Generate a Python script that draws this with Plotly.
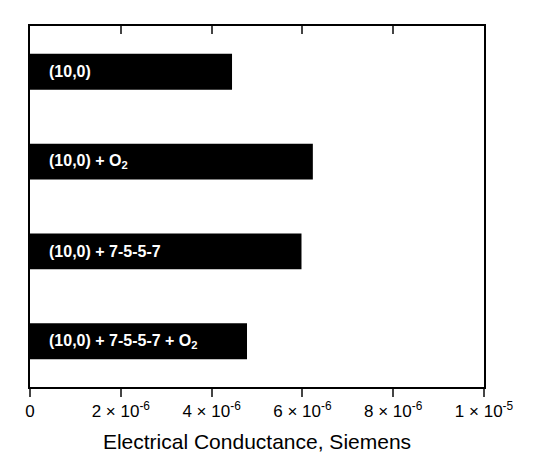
import plotly.graph_objects as go

labels = ["(10,0)", "(10,0) + O<sub>2</sub>", "(10,0) + 7-5-5-7", "(10,0) + 7-5-5-7 + O<sub>2</sub>"]
values = [4.45e-6, 6.23e-6, 5.98e-6, 4.78e-6]
tickvals = [0, 2e-6, 4e-6, 6e-6, 8e-6, 1e-5]
ticktext = ["0", "2 × 10<sup>-6</sup>", "4 × 10<sup>-6</sup>", "6 × 10<sup>-6</sup>", "8 × 10<sup>-6</sup>", "1 × 10<sup>-5</sup>"]

pos = list(range(len(labels)))
fig = go.Figure(go.Bar(x=values, y=pos, orientation="h", width=0.4,
                       marker=dict(color="black", line_width=0), hoverinfo="skip"))
fig.add_trace(go.Scatter(x=[0, 1e-5], y=[0, 0], xaxis="x2", mode="markers",
                         marker=dict(opacity=0), showlegend=False, hoverinfo="skip"))
for p, t in zip(pos, labels):
    fig.add_annotation(x=0, y=p, text=t, xanchor="left", xshift=17, showarrow=False,
                       font=dict(family="Liberation Sans", size=16, color="white", weight="bold"))
fig.update_layout(
    width=550, height=468, margin=dict(l=22, r=74, t=18, b=89),
    plot_bgcolor="white", paper_bgcolor="white", showlegend=False,
    xaxis=dict(range=[0, 1e-5], tickvals=tickvals, ticktext=ticktext, ticks="outside",
               ticklen=8, tickwidth=1.5, linecolor="black", linewidth=1.5, showgrid=False,
               zeroline=False, automargin=False,
               tickfont=dict(family="Liberation Sans", size=17, color="black"),
               title=dict(text="Electrical Conductance, Siemens", standoff=14,
                          font=dict(family="Liberation Sans", size=21, color="black"))),
    xaxis2=dict(overlaying="x", side="top", range=[0, 1e-5], tickvals=tickvals,
                showticklabels=False, ticks="inside", ticklen=8, tickwidth=1.5,
                linecolor="black", linewidth=1.5, showline=True, showgrid=False, zeroline=False,
                automargin=False),
    yaxis=dict(range=[3.51, -0.51], showticklabels=False, showgrid=False, zeroline=False,
               showline=True, mirror=True, linecolor="black", linewidth=1.5, ticks="",
               automargin=False),
)
fig.write_html("out.html")
